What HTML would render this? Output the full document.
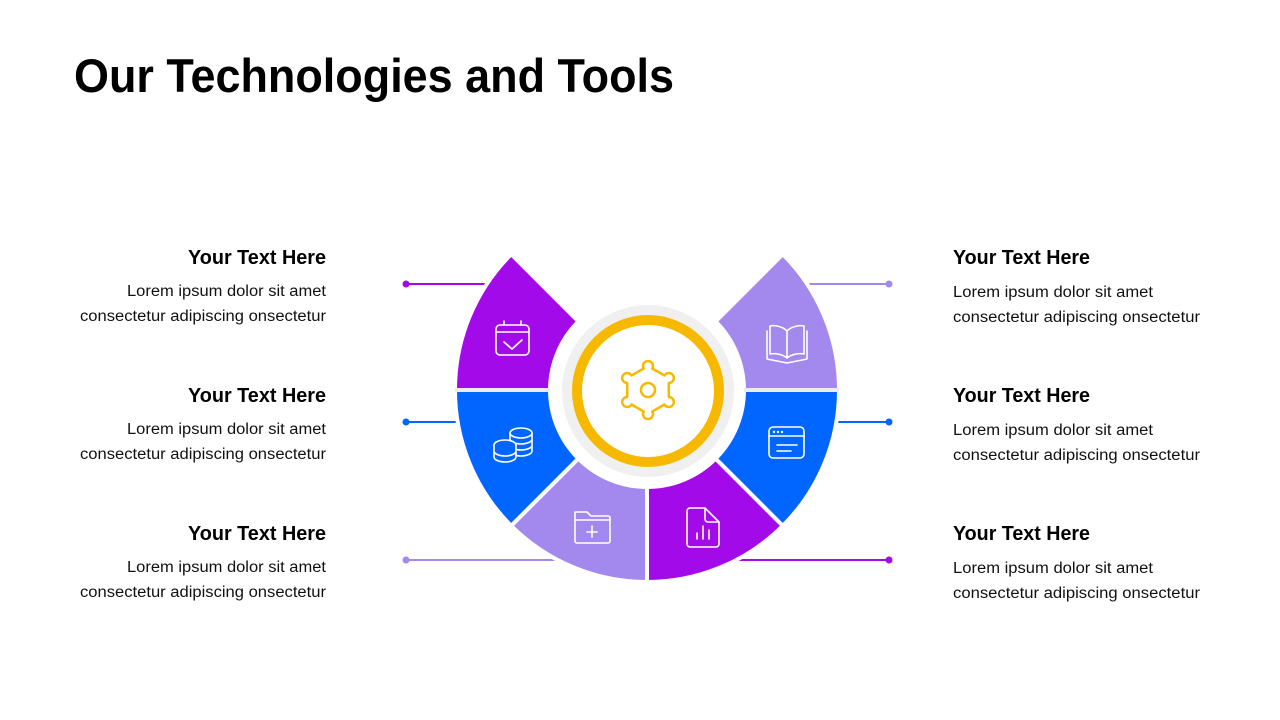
<!DOCTYPE html>
<html><head><meta charset="utf-8"><style>
html,body{margin:0;padding:0;background:#fff;}
svg{display:block;font-family:"Liberation Sans",sans-serif;}
</style></head><body>
<svg width="1280" height="720" viewBox="0 0 1280 720" xmlns="http://www.w3.org/2000/svg">
<rect width="1280" height="720" fill="#fff"/>
<text x="74" y="92" font-size="47" font-weight="bold" fill="#000" textLength="600" lengthAdjust="spacingAndGlyphs">Our Technologies and Tools</text>

<g stroke-width="2">
<line x1="406" y1="284" x2="500" y2="284" stroke="#a20ae9"/>
<line x1="406" y1="422" x2="470" y2="422" stroke="#0066ff"/>
<line x1="406" y1="560" x2="560" y2="560" stroke="#a389ee"/>
<line x1="790" y1="284" x2="889" y2="284" stroke="#a389ee"/>
<line x1="820" y1="422" x2="889" y2="422" stroke="#0066ff"/>
<line x1="735" y1="560" x2="889" y2="560" stroke="#a20ae9"/>
</g>
<circle cx="406" cy="284" r="3.5" fill="#a20ae9"/>
<circle cx="406" cy="422" r="3.5" fill="#0066ff"/>
<circle cx="406" cy="560" r="3.5" fill="#a389ee"/>
<circle cx="889" cy="284" r="3.5" fill="#a389ee"/>
<circle cx="889" cy="422" r="3.5" fill="#0066ff"/>
<circle cx="889" cy="560" r="3.5" fill="#a20ae9"/>

<g stroke="#fff" stroke-width="4" stroke-linejoin="miter">
<path d="M455,390 A192,192 0 0 1 511.2,254.2 L578.4,321.4 A97,97 0 0 0 550,390 Z" fill="#a20ae9"/>
<path d="M455,390 A192,192 0 0 0 511.2,525.8 L578.4,458.6 A97,97 0 0 1 550,390 Z" fill="#0066ff"/>
<path d="M511.2,525.8 A192,192 0 0 0 647,582 L647,487 A97,97 0 0 1 578.4,458.6 Z" fill="#a389ee"/>
<path d="M647,582 A192,192 0 0 0 782.8,525.8 L715.6,458.6 A97,97 0 0 1 647,487 Z" fill="#a20ae9"/>
<path d="M782.8,525.8 A192,192 0 0 0 839,390 L744,390 A97,97 0 0 1 715.6,458.6 Z" fill="#0066ff"/>
<path d="M839,390 A192,192 0 0 0 782.8,254.2 L715.6,321.4 A97,97 0 0 1 744,390 Z" fill="#a389ee"/>
</g>
<line x1="455" y1="390" x2="550" y2="390" stroke="#ececec" stroke-width="4"/>
<line x1="744" y1="390" x2="839" y2="390" stroke="#ececec" stroke-width="4"/>

<circle cx="648" cy="391" r="86" fill="#f0f0f0"/>
<circle cx="648" cy="391" r="71" fill="#fff" stroke="#f6b900" stroke-width="10"/>
<g fill="none" stroke="#f6b900" stroke-width="2.5" stroke-linejoin="round">
<circle cx="648" cy="390" r="7"/>
<path d="M643.7,368.5 A5,5 0 1 1 652.3,368.5 L664.5,375.5 A5,5 0 1 1 668.8,383 L668.8,397 A5,5 0 1 1 664.5,404.5 L652.3,411.5 A5,5 0 1 1 643.7,411.5 L631.5,404.5 A5,5 0 1 1 627.2,397 L627.2,383 A5,5 0 1 1 631.5,375.5 Z"/>
</g>

<g fill="none" stroke="#fff" stroke-width="1.6" stroke-linejoin="round" stroke-linecap="round">
<rect x="496" y="325" width="33" height="30" rx="4"/>
<line x1="496" y1="332" x2="529" y2="332"/>
<line x1="504" y1="321" x2="504" y2="325"/><line x1="521" y1="321" x2="521" y2="325"/>
<polyline points="504,342 512,349 522,340"/>
<ellipse cx="521" cy="433" rx="11" ry="5"/>
<path d="M510,433 v18 a11,5 0 0 0 22,0 v-18 M510,439 a11,5 0 0 0 22,0 M510,445 a11,5 0 0 0 22,0"/>
<ellipse cx="505" cy="445" rx="11" ry="5" fill="#0066ff"/>
<path d="M494,445 v12 a11,5 0 0 0 22,0 v-12 M494,451 a11,5 0 0 0 22,0" fill="#0066ff"/>
<path d="M575,512 h12 l4,4 h17 a2,2 0 0 1 2,2 v23 a2,2 0 0 1 -2,2 h-31 a2,2 0 0 1 -2,-2 z"/>
<line x1="575" y1="520" x2="610" y2="520"/>
<line x1="592" y1="526" x2="592" y2="537"/><line x1="587" y1="532" x2="597" y2="532"/>
<path d="M690,508 h15 l14,14 v22 a3,3 0 0 1 -3,3 h-26 a3,3 0 0 1 -3,-3 v-33 a3,3 0 0 1 3,-3z M705,508 v11 a3,3 0 0 0 3,3 h11"/>
<line x1="697" y1="533" x2="697" y2="539"/><line x1="703" y1="526" x2="703" y2="539"/><line x1="709" y1="530" x2="709" y2="539"/>
<path d="M787,331 c-5,-5 -13,-6 -17,-5 v28 c5,-1 12,0 17,4 c5,-4 12,-5 17,-4 v-28 c-4,-1 -12,0 -17,5z M787,331 v27"/>
<path d="M767,331 v28 l20,4 l20,-4 v-28"/>
<rect x="769" y="427" width="35" height="31" rx="4"/>
<line x1="769" y1="436" x2="804" y2="436"/>
<line x1="777" y1="445" x2="797" y2="445"/><line x1="777" y1="451" x2="791" y2="451"/>
</g>
<g fill="#fff"><circle cx="774" cy="432" r="1.2"/><circle cx="778" cy="432" r="1.2"/><circle cx="782" cy="432" r="1.2"/></g>

<g text-anchor="end" fill="#000">
<text x="326" y="264" font-size="20" font-weight="bold" textLength="138" lengthAdjust="spacingAndGlyphs">Your Text Here</text>
<text x="326" y="296" font-size="15.5" fill="#111" textLength="199" lengthAdjust="spacingAndGlyphs">Lorem ipsum dolor sit amet</text>
<text x="326" y="321" font-size="15.5" fill="#111" textLength="246" lengthAdjust="spacingAndGlyphs">consectetur adipiscing onsectetur</text>
<text x="326" y="402" font-size="20" font-weight="bold" textLength="138" lengthAdjust="spacingAndGlyphs">Your Text Here</text>
<text x="326" y="434" font-size="15.5" fill="#111" textLength="199" lengthAdjust="spacingAndGlyphs">Lorem ipsum dolor sit amet</text>
<text x="326" y="459" font-size="15.5" fill="#111" textLength="246" lengthAdjust="spacingAndGlyphs">consectetur adipiscing onsectetur</text>
<text x="326" y="540" font-size="20" font-weight="bold" textLength="138" lengthAdjust="spacingAndGlyphs">Your Text Here</text>
<text x="326" y="572" font-size="15.5" fill="#111" textLength="199" lengthAdjust="spacingAndGlyphs">Lorem ipsum dolor sit amet</text>
<text x="326" y="597" font-size="15.5" fill="#111" textLength="246" lengthAdjust="spacingAndGlyphs">consectetur adipiscing onsectetur</text>
</g>
<g fill="#000">
<text x="953" y="264" font-size="20" font-weight="bold" textLength="137" lengthAdjust="spacingAndGlyphs">Your Text Here</text>
<text x="953" y="297" font-size="15.5" fill="#111" textLength="200" lengthAdjust="spacingAndGlyphs">Lorem ipsum dolor sit amet</text>
<text x="953" y="322" font-size="15.5" fill="#111" textLength="247" lengthAdjust="spacingAndGlyphs">consectetur adipiscing onsectetur</text>
<text x="953" y="402" font-size="20" font-weight="bold" textLength="137" lengthAdjust="spacingAndGlyphs">Your Text Here</text>
<text x="953" y="435" font-size="15.5" fill="#111" textLength="200" lengthAdjust="spacingAndGlyphs">Lorem ipsum dolor sit amet</text>
<text x="953" y="460" font-size="15.5" fill="#111" textLength="247" lengthAdjust="spacingAndGlyphs">consectetur adipiscing onsectetur</text>
<text x="953" y="540" font-size="20" font-weight="bold" textLength="137" lengthAdjust="spacingAndGlyphs">Your Text Here</text>
<text x="953" y="573" font-size="15.5" fill="#111" textLength="200" lengthAdjust="spacingAndGlyphs">Lorem ipsum dolor sit amet</text>
<text x="953" y="598" font-size="15.5" fill="#111" textLength="247" lengthAdjust="spacingAndGlyphs">consectetur adipiscing onsectetur</text>
</g>
</svg>
</body></html>
